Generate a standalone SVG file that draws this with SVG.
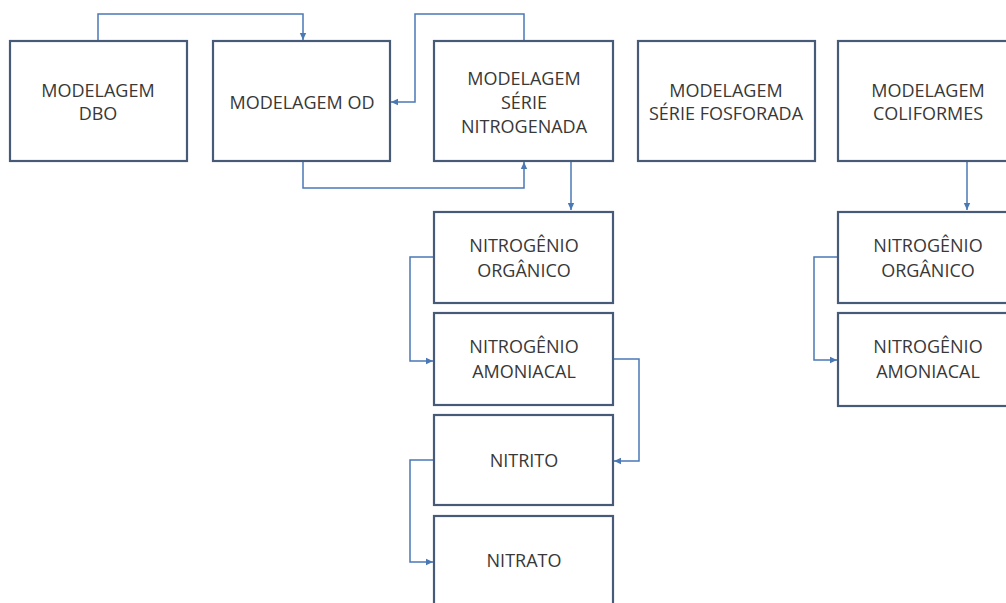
<svg xmlns="http://www.w3.org/2000/svg" width="1006" height="603" viewBox="0 0 1006 603">
<defs>
<marker id="arr" markerWidth="8" markerHeight="8" refX="7" refY="4" orient="auto" markerUnits="userSpaceOnUse">
<path d="M0,0.8 L7,4 L0,7.2 Z" fill="#4a78b5"/>
</marker>
</defs>
<style>
.box{fill:#ffffff;stroke:#475a78;stroke-width:2.2}
.t{font-family:"Open Sans","Liberation Sans",sans-serif;font-size:18px;fill:#383838;text-anchor:middle}
.c{fill:none;stroke:#4a78b5;stroke-width:1.5;marker-end:url(#arr)}
</style>
<rect width="1006" height="603" fill="#ffffff"/>
<g id="connectors">
<path class="c" d="M98,41 V14 H303 V40"/>
<path class="c" d="M524,41 V14 H415 V102 H391"/>
<path class="c" d="M303,161 V188 H524 V162"/>
<path class="c" d="M571,161 V210"/>
<path class="c" d="M434,257 H410 V361 H433"/>
<path class="c" d="M613,359 H639 V461 H614"/>
<path class="c" d="M434,460 H410 V562 H433"/>
<path class="c" d="M967,161 V210"/>
<path class="c" d="M838,257 H814 V360 H837"/>
</g>
<g id="dbo"><rect class="box" x="10" y="41" width="177" height="120"/><text class="t" x="98" y="97">MODELAGEM</text><text class="t" x="98" y="120">DBO</text></g>
<g id="od"><rect class="box" x="213" y="41" width="177" height="120"/><text class="t" x="302" y="109">MODELAGEM OD</text></g>
<g id="nitrogenada"><rect class="box" x="434" y="41" width="179" height="120"/><text class="t" x="524" y="85">MODELAGEM</text><text class="t" x="524" y="109">SÉRIE</text><text class="t" x="524" y="133">NITROGENADA</text></g>
<g id="fosforada"><rect class="box" x="638" y="41" width="177" height="120"/><text class="t" x="726" y="97">MODELAGEM</text><text class="t" x="726" y="120">SÉRIE FOSFORADA</text></g>
<g id="coliformes"><rect class="box" x="838" y="41" width="180" height="120"/><text class="t" x="928" y="97">MODELAGEM</text><text class="t" x="928" y="120">COLIFORMES</text></g>
<g id="norg1"><rect class="box" x="434" y="212" width="179" height="91"/><text class="t" x="524" y="252">NITROGÊNIO</text><text class="t" x="524" y="277">ORGÂNICO</text></g>
<g id="namon1"><rect class="box" x="434" y="313" width="179" height="92"/><text class="t" x="524" y="353">NITROGÊNIO</text><text class="t" x="524" y="378">AMONIACAL</text></g>
<g id="nitrito"><rect class="box" x="434" y="415" width="179" height="90"/><text class="t" x="524" y="467">NITRITO</text></g>
<g id="nitrato"><rect class="box" x="434" y="516" width="179" height="100"/><text class="t" x="524" y="567">NITRATO</text></g>
<g id="norg2"><rect class="box" x="838" y="212" width="180" height="91"/><text class="t" x="928" y="252">NITROGÊNIO</text><text class="t" x="928" y="277">ORGÂNICO</text></g>
<g id="namon2"><rect class="box" x="838" y="313" width="180" height="93"/><text class="t" x="928" y="353">NITROGÊNIO</text><text class="t" x="928" y="378">AMONIACAL</text></g>
</svg>
